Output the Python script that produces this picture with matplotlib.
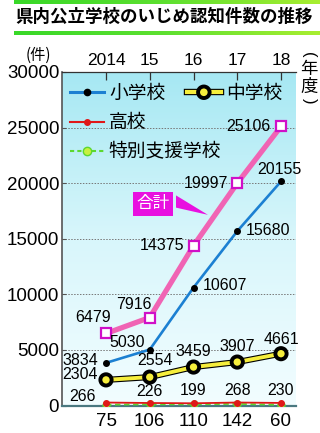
import numpy as np
import matplotlib
matplotlib.use("Agg")
import matplotlib.pyplot as plt
import matplotlib.patheffects as pe
from matplotlib.lines import Line2D
from matplotlib.patches import Polygon
from matplotlib.colors import LinearSegmentedColormap

# ==============================
# Data
# ==============================

years = [2014, 2015, 2016, 2017, 2018]
year_labels = ["2014", "15", "16", "17", "18"]
total = [6479, 7916, 14375, 19997, 25106]
elementary = [3834, 5030, 10607, 15680, 20155]
junior_high = [2304, 2554, 3459, 3907, 4661]
high_school = [266, 226, 199, 268, 230]
special = [75, 106, 110, 142, 60]

# label offsets in pixels (dx, dy, ha)
total_off = [(-13, 16, "center"), (-16, 13, "center"), (-9, 0, "right"),
             (-9, 0, "right"), (-10, 0, "right")]
elem_off = [(-8, 2, "right"), (-5, 7, "right"), (9, 2, "left"),
            (9, 1, "left"), (-2, 12, "center")]
jh_off = [(-8, 5, "right"), (5, 17, "center"), (0, 16, "center"),
          (0, 16, "center"), (0, 14, "center")]
hs_off = [(-10, 6, "right"), (0, 11, "center"), (0, 13, "center"),
          (0, 12, "center"), (0, 12, "center")]

JP = ["Noto Sans CJK JP", "DejaVu Sans"]
NUM = ["Liberation Sans", "DejaVu Sans"]
NARROW = ["Liberation Sans Narrow", "Liberation Sans", "DejaVu Sans"]

PX = 0.72  # points per pixel at dpi 100

fig = plt.figure(figsize=(3.2, 4.33), dpi=100)
W, H = 320, 433

def fx(px):
    return px / W

def fy(py):
    return 1 - py / H

# ==============================
# Title with green bars
# ==============================

bar_cmap = LinearSegmentedColormap.from_list("bar", ["#38d828", "#5ee030", "#a8ee30"])
for top_px in (0, 31):
    bax = fig.add_axes([fx(14), fy(top_px + 4), fx(306), 4 / H])
    bax.imshow(np.linspace(0, 1, 200).reshape(1, -1), aspect="auto", cmap=bar_cmap)
    bax.axis("off")

fig.text(fx(15), fy(17), "県内公立学校のいじめ認知件数の推移", family=JP,
         fontsize=12.6, fontweight="bold", ha="left", va="center")

# ==============================
# Main axes
# ==============================

ax = fig.add_axes([fx(62), fy(405.5), fx(296 - 62), (405.5 - 72) / H])

bg_cmap = LinearSegmentedColormap.from_list("bg", ["#f2fdff", "#d8f6fb", "#a6e8f3"])
ax.imshow(np.linspace(0, 1, 256).reshape(-1, 1), aspect="auto", cmap=bg_cmap,
          extent=[2012.994, 2018.343, 30000, 0], zorder=0)
ax.set_xlim(2012.994, 2018.343)
ax.set_ylim(0, 30000)

for v in range(5000, 30000, 5000):
    ax.axhline(v, color="#777777", linestyle=(0, (1.5, 1.5)), linewidth=0.7, zorder=1)

# 合計
ax.plot(years, total, color="#f064b4", linewidth=3.8, zorder=5,
        marker="s", markersize=7, markerfacecolor="white",
        markeredgecolor="#d010c8", markeredgewidth=1.6)
# 小学校
ax.plot(years, elementary, color="#1c80d2", linewidth=1.9, zorder=6,
        marker="o", markersize=4, markerfacecolor="black", markeredgecolor="black")
# 中学校
ax.plot(years, junior_high, color="#f6ee3c", linewidth=2.8, zorder=6,
        marker="o", markersize=6.5, markerfacecolor="#f6ee3c",
        markeredgecolor="black", markeredgewidth=1.2,
        path_effects=[pe.Stroke(linewidth=4.4, foreground="black"), pe.Normal()])
# 特別支援学校
ax.plot(years, special, color="#5cd830", linewidth=1.3, linestyle=(0, (3, 2)), zorder=6,
        marker="o", markersize=5, markerfacecolor="#c8f040", markeredgecolor="#5cd830")
# 高校
ax.plot(years, high_school, color="#e01818", linewidth=1.3, zorder=7,
        marker="o", markersize=4, markerfacecolor="#e01818", markeredgecolor="#e01818")

def put_labels(values, offsets):
    for x, v, (dx, dy, ha) in zip(years, values, offsets):
        ax.annotate(str(v), (x, v), xytext=(dx * PX, dy * PX), textcoords="offset points",
                    ha=ha, va="center", fontsize=11.5, family=NARROW, zorder=9)

put_labels(total, total_off)
put_labels(elementary, elem_off)
put_labels(junior_high, jh_off)
put_labels(high_school, hs_off)

for x, v in zip(years, special):
    ax.annotate(str(v), (x, 0), xytext=(0, -16 * PX), textcoords="offset points",
                ha="center", va="center", fontsize=13.5, family=NARROW,
                annotation_clip=False)

# 合計 callout
ax.text(2015.07, 18150, "合計", color="white", family=JP, fontsize=12,
        ha="center", va="center", zorder=10,
        bbox=dict(boxstyle="square,pad=0.2", fc="#e810e0", ec="none"))
ax.add_patch(Polygon([(2015.6, 18900), (2015.6, 17800), (2016.33, 17150)],
                     closed=True, fc="#e810e0", ec="none", zorder=10))

# ==============================
# Axes styling
# ==============================

ax.set_yticks(range(0, 30001, 5000))
ax.set_yticklabels([str(v) for v in range(0, 30001, 5000)], family=NUM, fontsize=13.5)
ax.tick_params(axis="y", direction="in", length=3, width=0.8, pad=2, color="#555555")

ax.xaxis.tick_top()
ax.set_xticks(years)
ax.set_xticklabels(year_labels, family=NUM, fontsize=12.5)
ax.tick_params(axis="x", direction="in", length=6, width=0.9, pad=3, color="#333333")

ax.spines["right"].set_visible(False)
ax.spines["left"].set_color("#555555")
ax.spines["left"].set_linewidth(1.2)
ax.spines["top"].set_color("#333333")
ax.spines["top"].set_linewidth(0.9)
ax.spines["bottom"].set_color("#4a7880")
ax.spines["bottom"].set_linewidth(1.6)

fig.text(fx(38), fy(55), "(件)", family=JP, fontsize=11, ha="center", va="center")
# vertical "(年度)"
fig.text(fx(309), fy(55), "(", family=NUM, fontsize=12, rotation=-90,
         ha="center", va="center")
fig.text(fx(309), fy(69), "年", family=JP, fontsize=12.5, ha="center", va="center")
fig.text(fx(309), fy(87), "度", family=JP, fontsize=12.5, ha="center", va="center")
fig.text(fx(309), fy(101), ")", family=NUM, fontsize=12, rotation=-90,
         ha="center", va="center")

# ==============================
# Legend
# ==============================

h_elem = Line2D([], [], color="#1c80d2", linewidth=2.2, marker="o", markersize=4.5,
                markerfacecolor="black", markeredgecolor="black")
h_hs = Line2D([], [], color="#e01818", linewidth=1.5, marker="o", markersize=4,
              markerfacecolor="#e01818", markeredgecolor="#e01818")
h_sp = Line2D([], [], color="#5cd830", linewidth=1.5, linestyle=(0, (2, 1.5)),
              marker="o", markersize=6, markerfacecolor="#c8f040", markeredgecolor="#5cd830")
h_jh = Line2D([], [], color="#f6ee3c", linewidth=3, marker="o", markersize=6.5,
              markerfacecolor="#f6ee3c", markeredgecolor="black", markeredgewidth=1,
              path_effects=[pe.Stroke(linewidth=4.6, foreground="black"), pe.Normal()])

leg_kw = dict(frameon=False, prop={"family": JP, "size": 13.5},
              handlelength=1.85, handletextpad=0.25, labelspacing=0.45, borderaxespad=0.0)
leg1 = ax.legend([h_elem, h_hs, h_sp], ["小学校", "高校", "特別支援学校"],
                 loc="upper left", bbox_to_anchor=(0.0, 0.99), **leg_kw)
leg1.set_zorder(8)
ax.add_artist(leg1)
leg2 = ax.legend([h_jh], ["中学校"], loc="upper left",
                 bbox_to_anchor=(0.5, 0.99), **leg_kw)
leg2.set_zorder(8)

fig.savefig("out.png", dpi=100)
